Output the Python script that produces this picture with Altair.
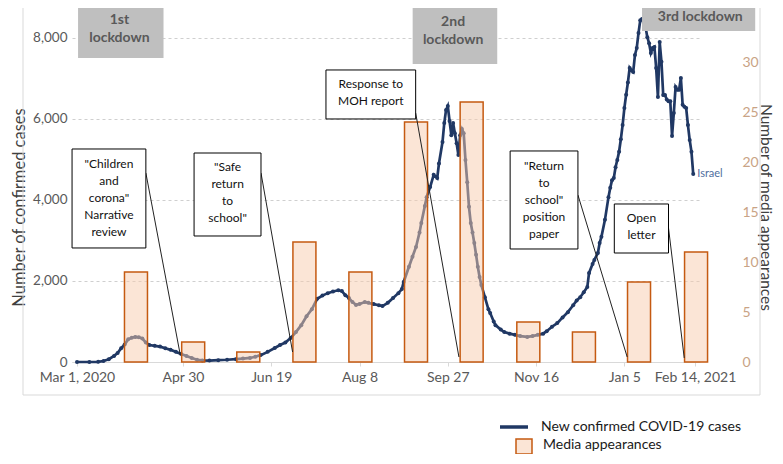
import altair as alt
import pandas as pd

# ---------------- data (x = days since Mar 1, 2020) ----------------
case_days = [0, 7, 12, 15, 18, 21, 23, 25, 27, 29, 31, 33, 35, 37, 39, 41, 44, 47, 50, 53, 56, 59,
             62, 65, 68, 71, 75, 80, 85, 90, 94, 98, 101, 104, 108, 112, 115, 118, 121, 124, 127,
             130, 133, 136, 139, 142, 145, 148, 150, 152, 154, 156, 158, 160, 163, 165, 168, 171,
             173, 176, 179, 182, 184, 185, 188, 190, 192, 194, 195, 197, 198, 200, 202, 204, 205,
             207, 208, 209, 210, 211, 212, 213, 214, 215, 216, 217, 218, 219, 220, 221, 222, 223,
             224, 225, 226, 227, 228, 229, 231, 233, 234, 236, 237, 240, 242, 245, 248, 251, 255,
             258, 261, 264, 266, 269, 272, 275, 278, 281, 283, 285, 287, 289, 290, 292, 293, 295,
             296, 297, 299, 301, 302, 303, 304, 305, 306, 307, 308, 309, 310, 311, 312, 313, 314,
             315, 316, 317, 318, 319, 320, 321, 322, 323, 324, 325, 326, 327, 328, 329, 330, 331,
             332, 333, 334, 335, 336, 337, 338, 339, 340, 341, 342, 343, 344, 345, 346, 347, 348, 349]
case_values = [0, 0, 5, 25, 70, 150, 220, 340, 430, 560, 600, 620, 610, 580, 480, 420, 400, 380, 340, 300, 250, 200,
               150, 100, 55, 40, 35, 45, 55, 70, 85, 100, 130, 170, 250, 345, 420, 480, 590, 740, 910,
               1130, 1300, 1560, 1640, 1700, 1740, 1770, 1750, 1650, 1580, 1480, 1410, 1430, 1480, 1460, 1430, 1400,
               1380, 1460, 1580, 1700, 1800, 1975, 2350, 2600, 2840, 3200, 3430, 3850, 4070, 4320, 4620, 4540, 4900,
               5430, 5900, 6220, 6320, 5950, 5600, 5900, 5650, 5400, 5110, 5600, 5750, 5650, 4990, 4440, 3830, 3430,
               3200, 2940, 2650, 2350, 2100, 1900, 1600, 1300, 1210, 1000, 910, 800, 740, 700, 670, 640, 620,
               640, 670, 700, 760, 870, 960, 1100, 1230, 1400, 1520, 1600, 1720, 1850, 2200, 2420, 2520, 2690,
               2940, 3090, 3510, 4070, 4300, 4490, 4540, 4810, 4990, 5190, 5500, 5850, 6270, 6600, 6900, 7260, 7200,
               7160, 7580, 7750, 8120, 8440, 8470, 8380, 8270, 8020, 7870, 7630, 7750, 7780, 7260, 6540, 7900, 7410,
               6590, 6590, 6480, 6440, 6440, 5580, 6150, 6790, 6720, 6720, 7010, 6350, 6300, 6270, 5850, 5480, 5190, 4640]
series_name = ["Israel"]

media_days = [33.4, 65.8, 97.0, 128.8, 160.5, 192.0, 223.5, 255.6, 287.1, 318.3, 350.6]
media_counts = [9, 2, 1, 12, 9, 24, 26, 4, 3, 8, 11]

tick_days = [0, 60, 110, 160, 210, 260, 310, 350]
tick_labels = ["Mar 1, 2020", "Apr 30", "Jun 19", "Aug 8", "Sep 27", "Nov 16", "Jan 5", "Feb 14, 2021"]
cases_ticks = [0, 2000, 4000, 6000, 8000]
media_ticks = [0, 5, 10, 15, 20, 25, 30]

lockdown_labels = ["1st\nlockdown", "2nd\nlockdown", "3rd lockdown"]
lockdown_start = [0.6, 190.1, 320.0]
lockdown_end = [49.0, 238.0, 384.1]
lockdown_bottom = [7506, 7358, 8170]
lockdown_text_day = [24.0, 213.0, 353.0]
lockdown_text_cases = [8432, 8395, 8518]   # first text line

note_texts = ['"Children\nand\ncorona"\nNarrative\nreview', '"Safe\nreturn\nto\nschool"',
              'Response to\nMOH report', '"Return\nto\nschool"\nposition\npaper', 'Open\nletter']
note_x1 = [-2.8, 66.3, 141.0, 245.3, 304.3]
note_x2 = [39.0, 104.2, 191.8, 283.7, 335.0]
note_top = [5259, 5160, 7210, 5210, 3901]
note_bottom = [2815, 3111, 6000, 2790, 2691]
note_text_day = [18.1, 85.3, 166.4, 264.5, 319.7]
note_text_cases = [4889, 4815, 6864, 4840, 3556]   # first text line
pointer_from_day = [39.0, 104.2, 191.8, 283.7, 335.0]
pointer_from_cases = [4667, 4667, 6148, 4123, 3309]
pointer_to_day = [58.5, 122.1, 216.3, 311.6, 343.9]
pointer_to_cases = [173, 247, 123, 123, 99]

legend_labels = ["New confirmed COVID-19 cases", "Media appearances"]

# ---------------- tables ----------------
cases_df = pd.DataFrame({"day": case_days, "cases": case_values})
last_df = pd.DataFrame({"day": [case_days[-1]], "cases": [case_values[-1]], "name": series_name})
media_df = pd.DataFrame({"day": media_days, "count": media_counts})
lock_df = pd.DataFrame({"label": lockdown_labels, "x1": lockdown_start, "x2": lockdown_end,
                        "bottom": lockdown_bottom, "tx": lockdown_text_day, "ty": lockdown_text_cases})
note_df = pd.DataFrame({"text": note_texts, "x1": note_x1, "x2": note_x2, "top": note_top,
                        "bottom": note_bottom, "tx": note_text_day, "ty": note_text_cases,
                        "px1": pointer_from_day, "py1": pointer_from_cases,
                        "px2": pointer_to_day, "py2": pointer_to_cases})
leg1_df = pd.DataFrame({"label": [legend_labels[0]]})
leg2_df = pd.DataFrame({"label": [legend_labels[1]]})
one_df = pd.DataFrame({"k": [0]})

CASE_MAX = 8740
MEDIA_MAX = 35.4
NAVY = "#203864"
FONT = "Lato"

label_expr = ("[" + ",".join("'" + s + "'" for s in tick_labels) + "][indexof(["
              + ",".join(str(d) for d in tick_days) + "], datum.value)]")
x_scale = alt.Scale(domain=[0, 350], nice=False, zero=False)
x_axis = alt.Axis(values=tick_days, labelExpr=label_expr, grid=False, domainColor="#D9D9D9",
                  tickColor="#D9D9D9", tickSize=4, labelFontSize=14, labelColor="#595959",
                  labelPadding=4, title=None, labelFlush=False, labelOverlap=False)


def X(f):
    return alt.X(f, type="quantitative", scale=x_scale, axis=x_axis)


def YN(f):
    return alt.Y(f, type="quantitative", scale=alt.Scale(domain=[0, CASE_MAX], nice=False, zero=False), axis=None)


cases_axis = alt.Axis(values=cases_ticks, format=",.0f", grid=True, gridDash=[3, 3], gridColor="#CFCFCF",
                      domain=False, ticks=False, labelFontSize=13.5, labelColor="#595959", labelPadding=5,
                      title="Number of confirmed cases", titleFontSize=16.5, titleFontWeight="normal",
                      titleColor="#404040", titleAngle=270, titleX=-53, titleY=199,
                      titleBaseline="middle", titleAlign="center")
media_axis = alt.Axis(orient="right", values=media_ticks, grid=False, domain=False, ticks=False,
                      labelFontSize=14, labelColor="#C9A385", labelPadding=42,
                      title="Number of media appearances", titleFontSize=15.5, titleFontWeight="normal",
                      titleColor="#404040", titleAngle=90, titleX=65, titleY=199,
                      titleBaseline="middle", titleAlign="center")

line = alt.Chart(cases_df).mark_line(
    color=NAVY, strokeWidth=2.7,
    point=alt.OverlayMarkDef(color=NAVY, size=16, filled=True)
).encode(
    x=X("day"),
    y=alt.Y("cases:Q", scale=alt.Scale(domain=[0, CASE_MAX], nice=False, zero=False), axis=cases_axis),
)

bars = alt.Chart(media_df).mark_bar(
    size=23, fill="#F8CBAD", fillOpacity=0.5, stroke="#C55A11", strokeWidth=1.5, orient="vertical"
).encode(
    x=X("day"),
    y=alt.Y("count:Q", scale=alt.Scale(domain=[0, MEDIA_MAX], nice=False, zero=True), axis=media_axis),
)

israel = alt.Chart(last_df).mark_text(align="left", baseline="middle", dx=4, fontSize=11,
                                      color="#4F6FA0", font=FONT).encode(
    x=X("day"), y=YN("cases"), text="name:N")

lock_rect = alt.Chart(lock_df).mark_rect(color="#BFBFBF").encode(
    x=X("x1"), x2="x2", y=YN("bottom"), y2=alt.value(0))
lock_text = alt.Chart(lock_df).mark_text(lineBreak="\n", lineHeight=18, fontSize=14, fontWeight="bold",
                                         color="#595959", font=FONT, baseline="middle").encode(
    x=X("tx"), y=YN("ty"), text="label:N")

note_rect = alt.Chart(note_df).mark_rect(fill="white", stroke="black", strokeWidth=1).encode(
    x=X("x1"), x2="x2", y=YN("bottom"), y2="top")
note_text = alt.Chart(note_df).mark_text(lineBreak="\n", lineHeight=17, fontSize=12, color="#111111",
                                         font=FONT, baseline="middle").encode(
    x=X("tx"), y=YN("ty"), text="text:N")
pointers = alt.Chart(note_df).mark_rule(color="#222222", strokeWidth=1).encode(
    x=X("px1"), x2="px2", y=YN("py1"), y2="py2")

frame_l = alt.Chart(one_df).mark_rule(color="#D9D9D9", strokeWidth=1).encode(
    x=alt.value(-49), y=alt.value(0), y2=alt.value(387))
frame_r = alt.Chart(one_df).mark_rule(color="#D9D9D9", strokeWidth=1).encode(
    x=alt.value(688), y=alt.value(0), y2=alt.value(387))
frame_b = alt.Chart(one_df).mark_rule(color="#D9D9D9", strokeWidth=1).encode(
    x=alt.value(-49), x2=alt.value(688), y=alt.value(387))

leg1_sw = alt.Chart(leg1_df).mark_rule(color=NAVY, strokeWidth=3.5).encode(
    x=alt.value(428), x2=alt.value(456), y=alt.value(419))
leg1_tx = alt.Chart(leg1_df).mark_text(align="left", baseline="middle", fontSize=14, color="#1A1A1A",
                                       font=FONT).encode(x=alt.value(469), y=alt.value(419), text="label:N")
leg2_sw = alt.Chart(leg2_df).mark_rect(fill="#F8CBAD", fillOpacity=0.5, stroke="#C55A11",
                                       strokeWidth=1.5).encode(
    x=alt.value(444), x2=alt.value(460), y=alt.value(431), y2=alt.value(446))
leg2_tx = alt.Chart(leg2_df).mark_text(align="left", baseline="middle", fontSize=14, color="#1A1A1A",
                                       font=FONT).encode(x=alt.value(471), y=alt.value(437), text="label:N")

annot = alt.layer(lock_rect, lock_text, pointers, note_rect, note_text, israel,
                  frame_l, frame_r, frame_b, leg1_sw, leg1_tx, leg2_sw, leg2_tx)

chart = alt.layer(line, bars, annot).resolve_scale(y="independent").properties(
    width=628, height=354,
    autosize=alt.AutoSizeParams(type="none"),
    padding={"left": 64, "top": 0, "right": 75, "bottom": 92},
    background="white",
).configure_view(stroke=None).configure_axis(labelFont=FONT, titleFont=FONT).configure_text(font=FONT)

chart.save("out.html", embed_options={"renderer": "svg", "actions": False})
